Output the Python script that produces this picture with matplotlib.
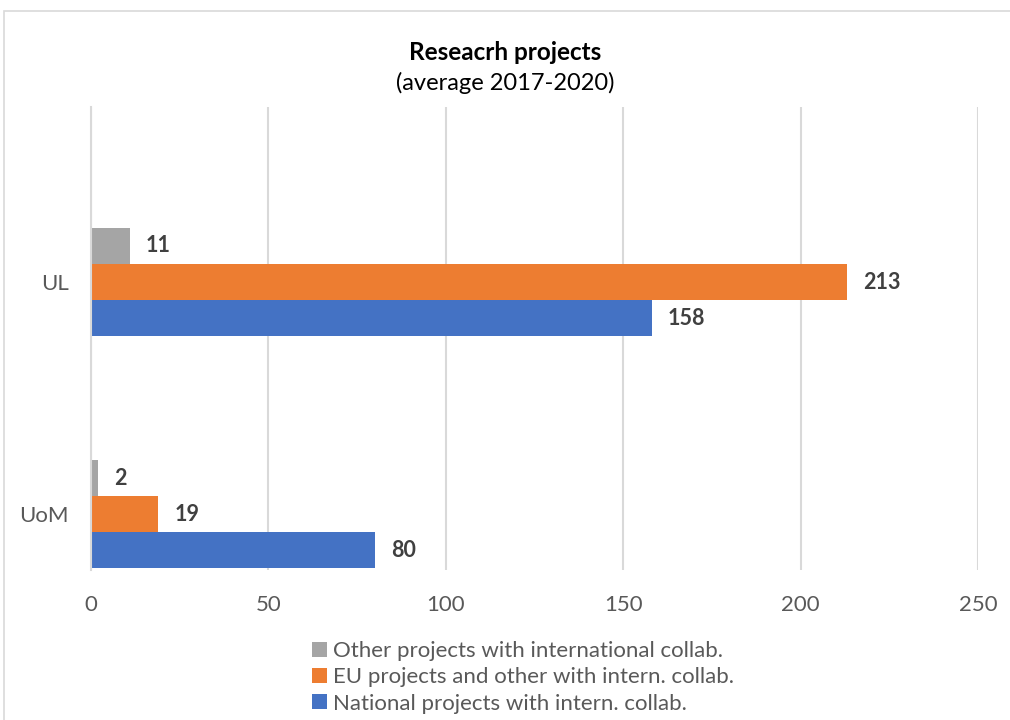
import matplotlib.pyplot as plt
from matplotlib.patches import Rectangle
import numpy as np

plt.rcParams['font.family'] = ['Lato', 'DejaVu Sans']

"""data: """
categories = ["UoM", "UL"]
series_names = ["Other projects with international collab.",
                "EU projects and other with intern. collab.",
                "National projects with intern. collab."]
other_vals = [2, 11]
eu_vals = [19, 213]
national_vals = [80, 158]
colours = ["#A5A5A5", "#ED7D31", "#4472C4"]

"""figure: """
fig = plt.figure(figsize=(10.1, 7.2), dpi=100)
fig.patches.append(Rectangle((4 / 1010, -0.1), 1.2, (720 - 11) / 720 + 0.1,
                             transform=fig.transFigure, fill=False,
                             edgecolor="#d9d9d9", linewidth=1.2))
ax = fig.add_axes([91 / 1010, (720 - 570) / 720, (978 - 91) / 1010, (570 - 107) / 720])

y = np.arange(len(categories))
h = 0.155
offsets = [h, 0, -h]
all_vals = [other_vals, eu_vals, national_vals]
bars = []
for vals, off, col, name in zip(all_vals, offsets, colours, series_names):
    b = ax.barh(y + off, vals, height=h, color=col, label=name)
    bars.append(b)
    for yy, v in zip(y + off, vals):
        ax.annotate(str(v), (v, yy), xytext=(11.5, 0), textcoords="offset points",
                    va="center", ha="left", fontsize=15.5, fontweight="bold",
                    color="#404040")

ax.set_xlim(0, 250)
ax.set_ylim(-0.239, 1.753)
ax.set_xticks([0, 50, 100, 150, 200, 250])
ax.set_yticks(y)
ax.set_yticklabels(categories)
ax.xaxis.grid(True, color="#d9d9d9", linewidth=1.5)
ax.set_axisbelow(True)
for s in ["top", "right", "bottom"]:
    ax.spines[s].set_visible(False)
ax.spines["left"].set_color("#d9d9d9")
ax.spines["left"].set_linewidth(1.5)
ax.tick_params(axis="both", length=0, labelsize=16, labelcolor="#595959")
ax.tick_params(axis="x", pad=18)
ax.tick_params(axis="y", pad=16)

"""titles: """
fig.text(0.5, (720 - 53) / 720, "Reseacrh projects", ha="center", va="center",
         fontsize=17.5, fontweight="bold", color="black")
fig.text(0.5, (720 - 83) / 720, "(average 2017-2020)", ha="center", va="center",
         fontsize=17, color="black")

"""legend: """
fig.legend(handles=bars, labels=series_names, loc="upper left",
           bbox_to_anchor=(301 / 1010, (720 - 630) / 720), frameon=False,
           fontsize=16, labelcolor="#595959", handlelength=0.68, handleheight=0.68,
           handletextpad=0.28, labelspacing=0.28, borderpad=0)

fig.savefig("out.png", dpi=100)
